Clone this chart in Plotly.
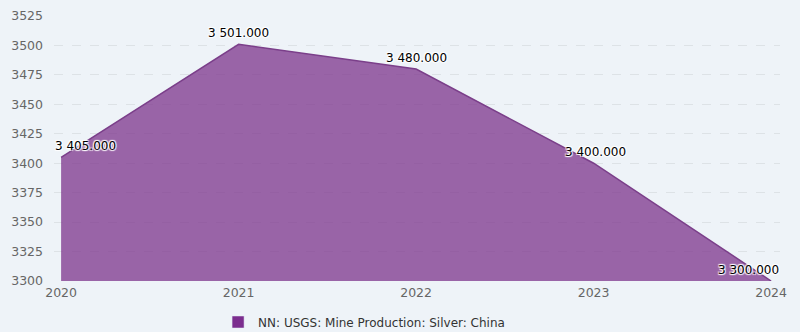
import plotly.graph_objects as go

years = [2020, 2021, 2022, 2023, 2024]
values = [3405, 3501, 3480, 3400, 3300]
series_name = "NN: USGS: Mine Production: Silver: China"
y_ticks = [3300, 3325, 3350, 3375, 3400, 3425, 3450, 3475, 3500, 3525]

labels = [f"{v:,.3f}".replace(",", " ") for v in values]
label_xshift = [24, 0, 0, 2, -23]

FONT = "DejaVu Sans"
halo = "1px 1px 1px #fff, -1px -1px 1px #fff, 1px -1px 1px #fff, -1px 1px 1px #fff"

fig = go.Figure()
fig.add_trace(go.Scatter(
    x=years, y=values, mode="lines", fill="tozeroy",
    fillcolor="rgba(124,52,140,0.75)",
    line=dict(color="#7b3f8a", width=1.5),
    showlegend=False, hoverinfo="skip",
))
fig.add_trace(go.Bar(
    x=[None], y=[None], name=series_name,
    marker=dict(color="#7b2d8e"), showlegend=True,
))

for x, y, t, dx in zip(years, values, labels, label_xshift):
    fig.add_annotation(x=x, y=y, text=t, showarrow=False, xanchor="center",
                       yanchor="middle", yshift=11, xshift=dx,
                       font=dict(family=FONT, size=12, color="#000", shadow=halo))

fig.update_layout(
    width=800, height=332,
    margin=dict(l=54, r=20, t=16, b=51, autoexpand=False),
    paper_bgcolor="#eef3f8", plot_bgcolor="#eef3f8",
    font=dict(family=FONT, size=12, color="#666"),
    xaxis=dict(range=[2019.96, 2024.05], tickvals=years, ticktext=[str(y) for y in years],
               showgrid=False, zeroline=False, showline=False,
               tickfont=dict(size=12.5, color="#666"), ticks="", ticklabelstandoff=2),
    yaxis=dict(range=[3300, 3525], tickvals=y_ticks, showgrid=True,
               gridcolor="#dde2e6", griddash="dash", gridwidth=1,
               zeroline=False, showline=False, ticks="",
               tickfont=dict(size=12.5, color="#666"), ticklabelstandoff=10),
    legend=dict(orientation="h", x=0.226, xanchor="left", y=-0.10, yanchor="top",
                font=dict(size=12, color="#333"), bgcolor="rgba(0,0,0,0)"),
    showlegend=True,
)

fig.write_html("out.html")
